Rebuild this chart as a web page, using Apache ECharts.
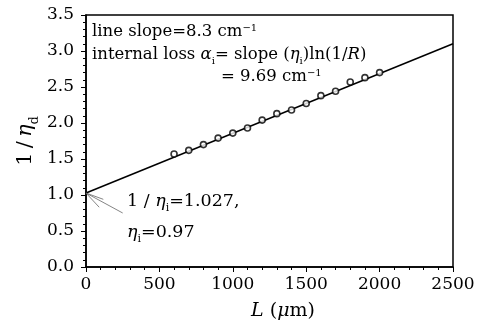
<!DOCTYPE html>
<html><head><meta charset="utf-8">
<script src="https://cdn.jsdelivr.net/npm/echarts@6/dist/echarts.min.js"></script>
<style>html,body{margin:0;padding:0;background:#fff}#c{width:480px;height:327px}</style>
</head><body><div id="c"></div>
<script>
// Data
const lengths = [600, 700, 800, 900, 1000, 1100, 1200, 1300, 1400, 1500, 1600, 1700, 1800, 1900, 2000];
const invEtaD = [1.57, 1.62, 1.70, 1.79, 1.86, 1.93, 2.04, 2.13, 2.18, 2.27, 2.38, 2.44, 2.57, 2.63, 2.70];
const fitX = [0, 2500];
const fitY = [1.027, 3.10];
const arrowTail = [250, 0.75];
const arrowTip = [0, 1.027];
const arrowWing1 = [118, 0.94];
const arrowWing2 = [90, 0.83];
const xTicks = [0, 500, 1000, 1500, 2000, 2500];
const yTicks = [0.0, 0.5, 1.0, 1.5, 2.0, 2.5, 3.0, 3.5];

const F = 'DejaVu Serif';
const chart = echarts.init(document.getElementById('c'), null, {renderer: 'canvas'});
function mkRich(fs, lh) {
  return {
    n: {fontFamily: F, fontSize: fs, color: '#000', lineHeight: lh},
    it: {fontFamily: F, fontSize: fs, color: '#000', fontStyle: 'italic', lineHeight: lh},
    sub: {fontFamily: F, fontSize: Math.round(fs * 0.6), color: '#000', verticalAlign: 'bottom'},
    sup: {fontFamily: F, fontSize: Math.round(fs * 0.6), color: '#000', verticalAlign: 'top', padding: [3, 0, 0, 0]}
  };
}
const rich = mkRich(16.5, 24);
const richAnn = mkRich(17.5, 26);
const richBig = mkRich(19, 28);
const richY = mkRich(21, 30);

chart.setOption({
  animation: false,
  backgroundColor: '#fff',
  grid: {left: 86, right: 27, top: 15, bottom: 60, show: true, borderColor: '#000', borderWidth: 1.5},
  xAxis: {
    type: 'value', min: xTicks[0], max: xTicks[xTicks.length - 1], interval: 500,
    axisLine: {show: true, lineStyle: {color: '#000', width: 1.5}},
    axisTick: {show: true, length: 5, lineStyle: {color: '#000'}},
    minorTick: {show: true, splitNumber: 5, length: 3, lineStyle: {color: '#000'}},
    splitLine: {show: false},
    axisLabel: {fontFamily: F, fontSize: 17, color: '#000', margin: 9,
      formatter: v => String(v)}
  },
  yAxis: {
    type: 'value', min: yTicks[0], max: yTicks[yTicks.length - 1], interval: 0.5,
    axisLine: {show: true, lineStyle: {color: '#000', width: 1.5}},
    axisTick: {show: true, length: 5, lineStyle: {color: '#000'}},
    minorTick: {show: true, splitNumber: 5, length: 3, lineStyle: {color: '#000'}},
    splitLine: {show: false},
    axisLabel: {fontFamily: F, fontSize: 17, color: '#000', margin: 12,
      formatter: v => v.toFixed(1)}
  },
  series: [
    {
      type: 'line', data: fitX.map((x, i) => [x, fitY[i]]), symbol: 'none',
      lineStyle: {color: '#000', width: 1.5}, z: 2
    },
    {
      type: 'scatter', data: lengths.map((x, i) => [x, invEtaD[i]]),
      symbol: 'circle', symbolSize: 6,
      itemStyle: {color: '#fff', borderColor: '#000', borderWidth: 1.6}, z: 3
    },
    {
      type: 'line', data: [], silent: true,
      markLine: {
        silent: true, symbol: ['none', 'none'], label: {show: false},
        lineStyle: {color: '#666', width: 0.8, type: 'solid'},
        data: [
          [{coord: arrowTail}, {coord: arrowTip}],
          [{coord: arrowWing1}, {coord: arrowTip}],
          [{coord: arrowWing2}, {coord: arrowTip}]
        ]
      }
    }
  ],
  graphic: [
    {type: 'text', left: 92, top: 23, style: {text: '{n|line slope=8.3 cm}{sup|−1}', rich: rich}},
    {type: 'text', left: 92, top: 46, style: {text: '{n|internal loss }{it|α}{sub|i}{n|= slope (}{it|η}{sub|i}{n|)ln(1/}{it|R}{n|)}', rich: rich}},
    {type: 'text', left: 221, top: 68, style: {text: '{n|= 9.69 cm}{sup|−1}', rich: rich}},
    {type: 'text', left: 127, top: 192, style: {text: '{n|1 / }{it|η}{sub|i}{n|=1.027,}', rich: richAnn}},
    {type: 'text', left: 127, top: 223, style: {text: '{it|η}{sub|i}{n|=0.97}', rich: richAnn}},
    {type: 'text', x: 283, y: 311, style: {text: '{it|L}{n| (}{it|μ}{n|m)}', rich: richBig, align: 'center', verticalAlign: 'middle'}},
    {type: 'text', x: 26, y: 141, rotation: Math.PI / 2, style: {text: '{n|1\u2009/\u2009}{it|η}{sub|d}', rich: richY, align: 'center', verticalAlign: 'middle'}}
  ]
});
</script></body></html>
